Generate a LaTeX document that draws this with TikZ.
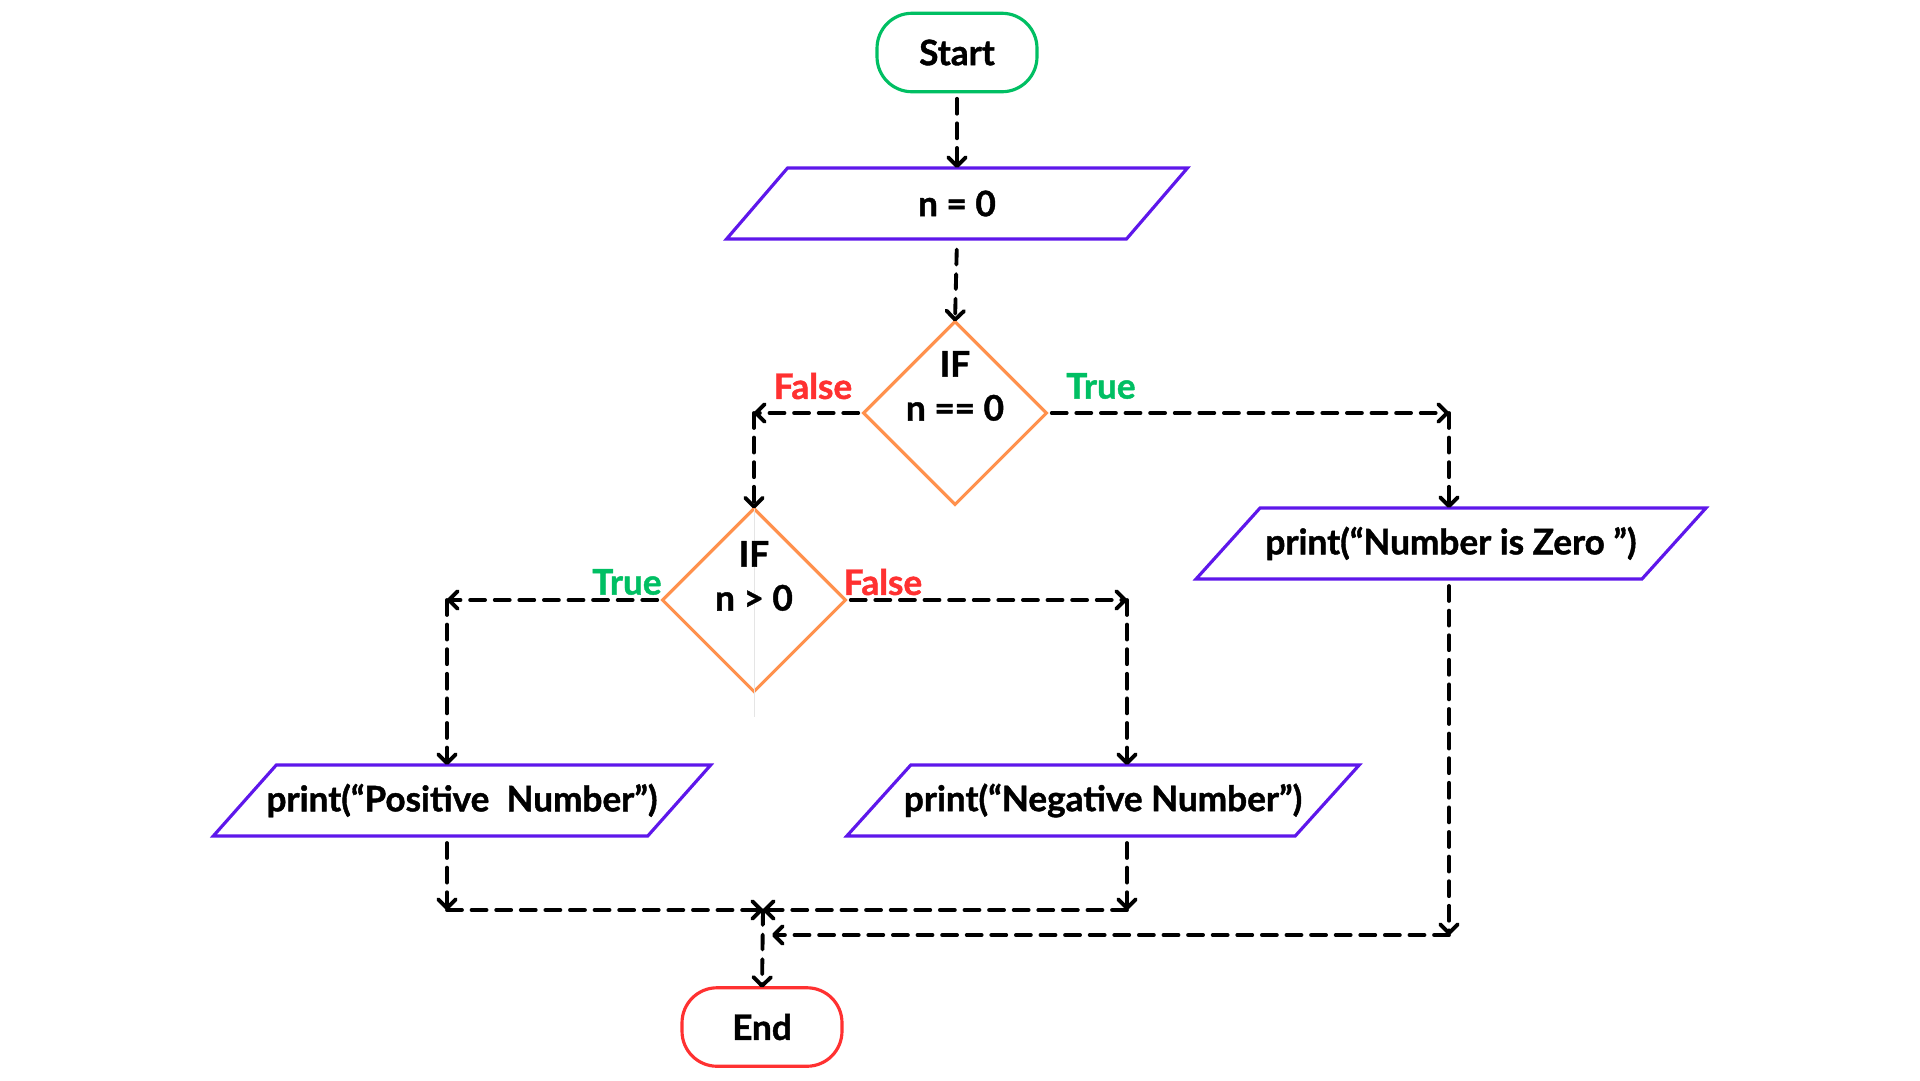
\documentclass[tikz,border=0pt]{standalone}
\usepackage{fontspec}
\setmainfont{Lato}[BoldFeatures={FakeBold=1.2}]
\usetikzlibrary{arrows.meta,shapes.geometric}
\definecolor{cgreen}{HTML}{00BF63}
\definecolor{cpurple}{HTML}{5E17EB}
\definecolor{corange}{HTML}{FF914D}
\definecolor{cred}{HTML}{FF3131}
\begin{document}
\begin{tikzpicture}[x=0.02cm,y=-0.02cm,
  txt/.style={font=\fontsize{20}{25}\selectfont\bfseries, text=black},
  term/.style={draw, line width=1.8pt, rounded corners=0.7cm, minimum width=3.2cm, minimum height=1.57cm, inner sep=0pt, outer sep=0pt, txt},
  io/.style={inner sep=0pt, outer sep=0pt, minimum height=1.42cm, txt},
  iobox/.style={draw=cpurple, line width=1.8pt, line join=miter},
  dec/.style={diamond, draw=corange, line width=1.8pt, minimum width=3.66cm, minimum height=3.66cm, inner sep=0pt, outer sep=0pt, aspect=1},
  flow/.style={line width=2.2pt, line cap=round, dash pattern=on 8.5pt off 5.5pt, -{Straight Barb[length=5pt,width=10pt,round]}},
  yes/.style={txt, text=cgreen},
  no/.style={txt, text=cred}]
\fill[white] (0,0) rectangle (1920,1080);
\useasboundingbox (0,0) rectangle (1920,1080);

% terminals
\node[term, draw=cgreen] (start) at (957,52.5) {Start};
\node[term, draw=cred] (end) at (762,1027) {End};

% input / output boxes
\node[io, minimum width=8.0cm] (p0) at (957,203.5) {n = 0};
\draw[iobox] ([xshift=-0.61cm]p0.south west) -- ([xshift=0.61cm]p0.north west) -- ([xshift=0.61cm]p0.north east) -- ([xshift=-0.61cm]p0.south east) -- cycle;

\node[io, minimum width=8.92cm] (zero) at (1451,543.5) {print(“Number is Zero ”)};
\draw[iobox] ([xshift=-0.64cm]zero.south west) -- ([xshift=0.64cm]zero.north west) -- ([xshift=0.64cm]zero.north east) -- ([xshift=-0.64cm]zero.south east) -- cycle;

\node[io, minimum width=8.69cm] (pos) at (462,800.5) {print(“Positive\ \ Number”)};
\draw[iobox] ([xshift=-0.63cm]pos.south west) -- ([xshift=0.63cm]pos.north west) -- ([xshift=0.63cm]pos.north east) -- ([xshift=-0.63cm]pos.south east) -- cycle;

\node[io, minimum width=8.97cm] (neg) at (1103,800.5) {print(“Negative Number”)};
\draw[iobox] ([xshift=-0.64cm]neg.south west) -- ([xshift=0.64cm]neg.north west) -- ([xshift=0.64cm]neg.north east) -- ([xshift=-0.64cm]neg.south east) -- cycle;

% decisions
\node[dec] (d1) at (955,413) {};
\node[txt, align=center] (d1t) at (955,386) {IF\\n == 0};
\node[dec] (d2) at (754,600) {};
\draw[gray!20, line width=0.3pt] (d2.north) -- (754,717);
\node[txt, align=center] (d2t) at (754,576) {IF\\n > 0};

% branch labels
\node[no] (f1) at (813,386) {False};
\node[yes] (t1) at (1101,386) {True};
\node[yes] (t2) at (627,582) {True};
\node[no] (f2) at (883,582) {False};

% helper points
\coordinate (c1) at (d2.north |- d1.west);
\coordinate (c2) at (1449,413);
\coordinate (c3) at (447,600);
\coordinate (c4) at (1127,600);
\coordinate (c5) at (447,910);
\coordinate (c6) at (1127,910);
\coordinate (c7) at (1449,935);
\coordinate (j) at (763,910);
\coordinate (j2) at (772,935);

% connectors
\draw[flow, shorten <=4pt] (start.south) -- (p0.north);
\draw[flow, shorten <=6pt] (p0.south) -- (d1.north);
\draw[flow, shorten <=3pt] (d1.west) -- (c1);
\draw[flow] (c1) -- (d2.north);
\draw[flow, shorten <=3pt] (d1.east) -- (c2);
\draw[flow] (c2) -- (c2 |- zero.north);
\draw[flow, shorten <=3pt] (d2.west) -- (c3);
\draw[flow] (c3) -- (c3 |- pos.north);
\draw[flow, shorten <=3pt] (d2.east) -- (c4);
\draw[flow] (c4) -- (c4 |- neg.north);
\draw[flow, shorten <=4pt] (c3 |- pos.south) -- (c5);
\draw[flow] (c5) -- (j);
\draw[flow, shorten <=4pt] (c4 |- neg.south) -- (c6);
\draw[flow] (c6) -- (j);
\draw[flow, shorten <=4pt] (c2 |- zero.south) -- (c7);
\draw[flow] (c7) -- (j2);
\draw[flow] (j) -- (end.north);
\end{tikzpicture}
\end{document}
